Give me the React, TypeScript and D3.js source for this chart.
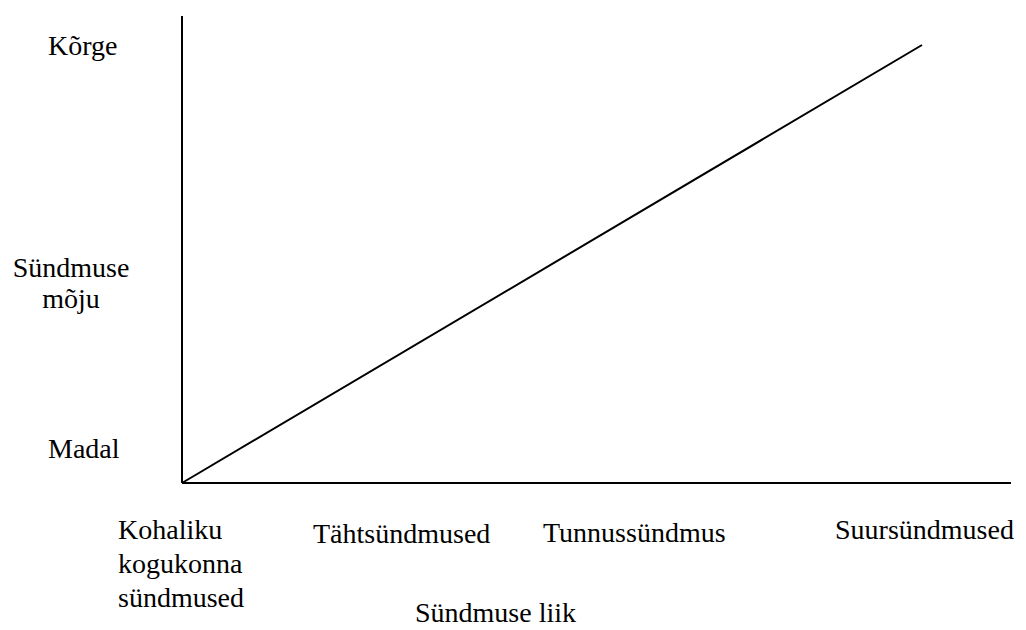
import React from 'react';
import * as d3 from 'd3';

// event types along the x axis (index 0..3)
const categories = ['Kohaliku kogukonna sündmused', 'Tähtsündmused', 'Tunnussündmus', 'Suursündmused'];
// impact levels on the y axis
const impactLabels = ['Madal', 'Kõrge'];
// the trend line: from first category / low impact to last category / high impact
const lineX = [0, 3];
const lineY = [0, 1];

const xAxisTitle = 'Sündmuse liik';
const yAxisTitle = ['Sündmuse', 'mõju'];

const width = 1026;
const height = 630;
const font = '"Liberation Serif", "Times New Roman", serif';
const fs = 28;

const App: React.FC = () => {
  const originX = 182;
  const originY = 483;

  const x = d3.scaleLinear().domain([0, 3]).range([originX, 922]);
  const y = d3.scaleLinear().domain([0, 1]).range([originY, 45]);

  const line = d3
    .line<number>()
    .x((d) => x(lineX[d]))
    .y((d) => y(lineY[d]));

  // label placements (left edge, baseline)
  const catPos = [
    { x: 118, y: 539 },
    { x: 313, y: 543 },
    { x: 543, y: 542 },
    { x: 835, y: 539 },
  ];
  const impactPos = [
    { x: 48, y: 458 },
    { x: 48, y: 55 },
  ];

  return (
    <svg
      width={width}
      height={height}
      style={{ position: 'absolute', left: 0, top: 0, background: '#fff' }}
      fontFamily={font}
      fontSize={fs}
    >
      {/* axes */}
      <line x1={originX} y1={16} x2={originX} y2={originY} stroke="#000" strokeWidth={2} />
      <line x1={originX} y1={originY} x2={1011} y2={originY} stroke="#000" strokeWidth={2} />

      <path d={line([0, 1]) || ''} fill="none" stroke="#000" strokeWidth={2} />

      {impactLabels.map((t, i) => (
        <text key={t} x={impactPos[i].x} y={impactPos[i].y}>
          {t}
        </text>
      ))}

      <text x={71} y={277} textAnchor="middle">
        <tspan x={71}>{yAxisTitle[0]}</tspan>
        <tspan x={71} dy={31}>{yAxisTitle[1]}</tspan>
      </text>

      {categories.map((c, i) => {
        const words = i === 0 ? ['Kohaliku', 'kogukonna', 'sündmused'] : [c];
        return (
          <text key={c} x={catPos[i].x} y={catPos[i].y}>
            {words.map((w, j) => (
              <tspan key={w} x={catPos[i].x} dy={j === 0 ? 0 : 34}>
                {w}
              </tspan>
            ))}
          </text>
        );
      })}

      <text x={415} y={622}>
        {xAxisTitle}
      </text>
    </svg>
  );
};

export default App;
